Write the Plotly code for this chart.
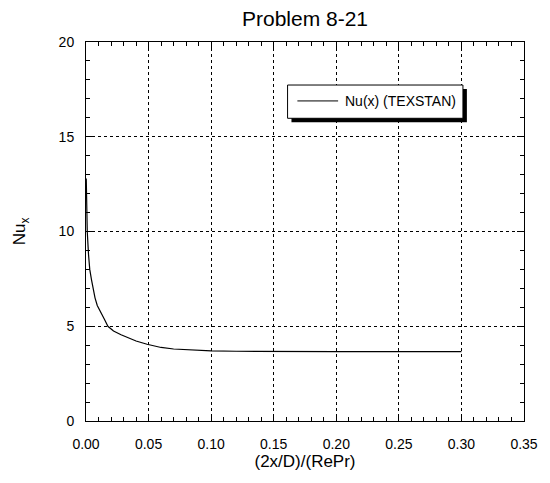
import plotly.graph_objects as go

# Local Nusselt number along the tube, TEXSTAN solution
x_plus = [0.0002, 0.0005, 0.001, 0.002, 0.003, 0.0044, 0.0057, 0.0072, 0.009,
          0.0125, 0.0149, 0.0175, 0.022, 0.028, 0.0344, 0.04, 0.0488, 0.06,
          0.07, 0.081, 0.10, 0.12, 0.15, 0.20, 0.25, 0.30]
nu_x = [12.8, 11.4, 10.0, 8.8, 8.0, 7.45, 6.95, 6.5, 6.1,
        5.6, 5.34, 5.0, 4.75, 4.55, 4.37, 4.22, 4.05, 3.88,
        3.8, 3.75, 3.70, 3.68, 3.66, 3.66, 3.66, 3.66]

series_name = "Nu(x) (TEXSTAN)"
title_text = "Problem 8-21"
x_title = "(2x/D)/(RePr)"
y_title = "Nu<sub>x</sub>"

FONT = "Arial, Liberation Sans, sans-serif"

fig = go.Figure()
fig.add_trace(go.Scatter(x=x_plus, y=nu_x, mode="lines", name=series_name,
                         line=dict(color="black", width=1.2), showlegend=False))

axis_common = dict(
    showline=True, linecolor="black", linewidth=1, mirror="allticks",
    ticks="inside", ticklen=7, tickcolor="black", tickwidth=1,
    showgrid=True, gridcolor="black", gridwidth=1, griddash="dot",
    zeroline=False, tickfont=dict(family=FONT, size=14, color="black"),
)

fig.update_xaxes(range=[0, 0.35], dtick=0.05, tickformat=".2f",
                 minor=dict(dtick=0.01, ticks="inside", ticklen=4, tickcolor="black", showgrid=False),
                 title=dict(text=x_title, font=dict(family=FONT, size=17, color="black"), standoff=3),
                 ticklabelstandoff=10, **axis_common)
fig.update_yaxes(range=[0, 20], dtick=5,
                 minor=dict(dtick=1, ticks="inside", ticklen=4, tickcolor="black", showgrid=False),
                 title=dict(text=y_title, font=dict(family=FONT, size=17, color="black"), standoff=28),
                 ticklabelstandoff=8, **axis_common)

# Boxed legend with drop shadow (paper coordinates inside the plot area)
fig.add_shape(type="rect", xref="paper", yref="paper", x0=0.4691, x1=0.8696, y0=0.7881, y1=0.876,
              fillcolor="black", line=dict(width=0), layer="above")
fig.add_shape(type="rect", xref="paper", yref="paper", x0=0.4602, x1=0.8606, y0=0.7987, y1=0.8865,
              fillcolor="white", line=dict(color="black", width=1), layer="above")
fig.add_shape(type="line", xref="paper", yref="paper", x0=0.4826, x1=0.5756, y0=0.8445, y1=0.8445,
              line=dict(color="black", width=1), layer="above")
fig.add_annotation(xref="paper", yref="paper", x=0.5861, y=0.8445, text=series_name,
                   xanchor="left", yanchor="middle", showarrow=False,
                   font=dict(family=FONT, size=14, color="black"))

fig.update_layout(
    width=550, height=483,
    margin=dict(l=86, r=17, t=42, b=62),
    paper_bgcolor="white", plot_bgcolor="white",
    title=dict(text=title_text, x=0.5, xref="paper", y=1 - 19 / 483, yref="container",
               xanchor="center", yanchor="middle",
               font=dict(family=FONT, size=21, color="black")),
    font=dict(family=FONT, color="black"),
)

fig.write_html("out.html")
